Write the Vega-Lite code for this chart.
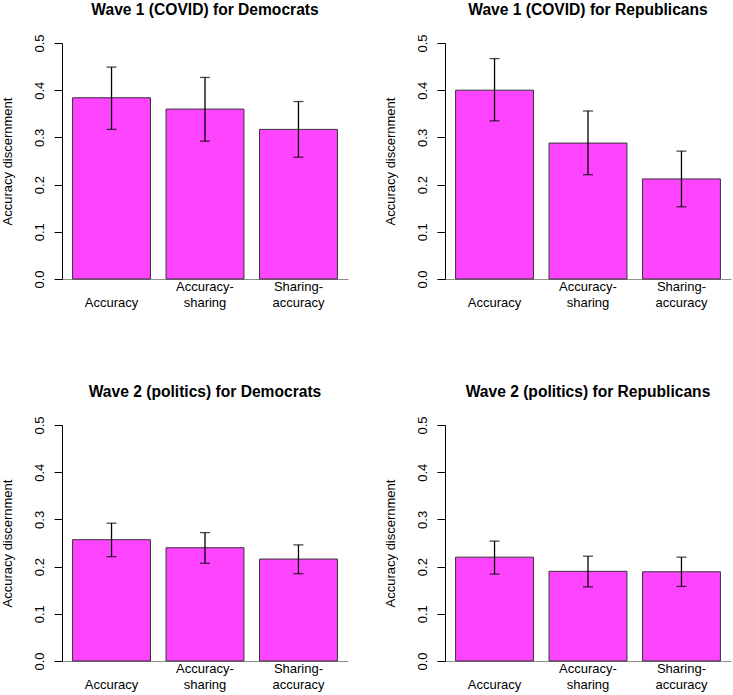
{
  "$schema": "https://vega.github.io/schema/vega-lite/v6.json",
  "padding": {"left": 1, "top": 3, "right": 5, "bottom": 5},
  "background": "white",
  "config": {
    "font": "Liberation Sans",
    "view": {"stroke": null},
    "title": {"font": "Liberation Sans", "fontSize": 15.6, "fontWeight": "bold", "color": "black", "anchor": "middle", "frame": "group", "baseline": "alphabetic", "offset": 15},
    "axisY": {
      "domainColor": "black", "tickColor": "black", "tickSize": 8, "grid": false,
      "labelAngle": 270, "labelAlign": "center", "labelBaseline": "bottom", "labelPadding": 7.5,
      "labelFontSize": 13, "labelColor": "black", "labelFont": "Liberation Sans",
      "values": [0, 0.1, 0.2, 0.3, 0.4, 0.5], "format": ".1f",
      "titleFontSize": 13, "titleFontWeight": "normal", "titleColor": "black", "titleFont": "Liberation Sans",
      "titleAngle": 270, "titleX": -55, "titleY": 118, "titleAlign": "center", "titleBaseline": "middle"
    },
    "axisX": {
      "domainColor": "#8c8c8c", "domainWidth": 1, "ticks": false, "tickSize": 0, "grid": false,
      "labelAngle": 0, "labelFontSize": 13, "labelColor": "black", "labelFont": "Liberation Sans",
      "labelBaseline": "bottom", "labelPadding": 14.5, "labelLineHeight": 16, "title": null,
      "labelExpr": "indexof(datum.label, '|') < 0 ? ['', datum.label] : split(datum.label, '|')"
    }
  },
  "datasets": {
    "bars": [
      {"panel": "w1d", "condition": "Accuracy", "value": 0.384, "lo": 0.317, "hi": 0.449},
      {"panel": "w1d", "condition": "Accuracy-|sharing", "value": 0.360, "lo": 0.292, "hi": 0.427},
      {"panel": "w1d", "condition": "Sharing-|accuracy", "value": 0.317, "lo": 0.258, "hi": 0.376},
      {"panel": "w1r", "condition": "Accuracy", "value": 0.400, "lo": 0.335, "hi": 0.467},
      {"panel": "w1r", "condition": "Accuracy-|sharing", "value": 0.288, "lo": 0.221, "hi": 0.356},
      {"panel": "w1r", "condition": "Sharing-|accuracy", "value": 0.212, "lo": 0.153, "hi": 0.271},
      {"panel": "w2d", "condition": "Accuracy", "value": 0.257, "lo": 0.221, "hi": 0.292},
      {"panel": "w2d", "condition": "Accuracy-|sharing", "value": 0.240, "lo": 0.207, "hi": 0.272},
      {"panel": "w2d", "condition": "Sharing-|accuracy", "value": 0.216, "lo": 0.185, "hi": 0.246},
      {"panel": "w2r", "condition": "Accuracy", "value": 0.220, "lo": 0.184, "hi": 0.254},
      {"panel": "w2r", "condition": "Accuracy-|sharing", "value": 0.190, "lo": 0.157, "hi": 0.222},
      {"panel": "w2r", "condition": "Sharing-|accuracy", "value": 0.189, "lo": 0.158, "hi": 0.220}
    ]
  },
  "bounds": "flush",
  "columns": 2,
  "spacing": {"row": 146, "column": 97},
  "concat": [
    {
      "title": "Wave 1 (COVID) for Democrats",
      "width": 286, "height": 236,
      "data": {"name": "bars"},
      "transform": [{"filter": "datum.panel === 'w1d'"}],
      "encoding": {
        "x": {"field": "condition", "type": "nominal", "sort": null, "scale": {"paddingInner": 0.1667, "paddingOuter": 0.1133}}
      },
      "layer": [
        {"mark": {"type": "bar", "fill": "#ff44ff", "stroke": "#333333", "strokeWidth": 1},
         "encoding": {"y": {"field": "value", "type": "quantitative", "scale": {"domain": [0, 0.5], "nice": false}, "title": "Accuracy discernment"}}},
        {"mark": {"type": "errorbar", "ticks": {"size": 10, "color": "black", "thickness": 1.3}, "rule": {"color": "black", "strokeWidth": 1.3}},
         "encoding": {"y": {"field": "lo", "type": "quantitative", "title": "Accuracy discernment"}, "y2": {"field": "hi"}}}
      ]
    },
    {
      "title": "Wave 1 (COVID) for Republicans",
      "width": 286, "height": 236,
      "data": {"name": "bars"},
      "transform": [{"filter": "datum.panel === 'w1r'"}],
      "encoding": {
        "x": {"field": "condition", "type": "nominal", "sort": null, "scale": {"paddingInner": 0.1667, "paddingOuter": 0.1133}}
      },
      "layer": [
        {"mark": {"type": "bar", "fill": "#ff44ff", "stroke": "#333333", "strokeWidth": 1},
         "encoding": {"y": {"field": "value", "type": "quantitative", "scale": {"domain": [0, 0.5], "nice": false}, "title": "Accuracy discernment"}}},
        {"mark": {"type": "errorbar", "ticks": {"size": 10, "color": "black", "thickness": 1.3}, "rule": {"color": "black", "strokeWidth": 1.3}},
         "encoding": {"y": {"field": "lo", "type": "quantitative", "title": "Accuracy discernment"}, "y2": {"field": "hi"}}}
      ]
    },
    {
      "title": "Wave 2 (politics) for Democrats",
      "width": 286, "height": 236,
      "data": {"name": "bars"},
      "transform": [{"filter": "datum.panel === 'w2d'"}],
      "encoding": {
        "x": {"field": "condition", "type": "nominal", "sort": null, "scale": {"paddingInner": 0.1667, "paddingOuter": 0.1133}}
      },
      "layer": [
        {"mark": {"type": "bar", "fill": "#ff44ff", "stroke": "#333333", "strokeWidth": 1},
         "encoding": {"y": {"field": "value", "type": "quantitative", "scale": {"domain": [0, 0.5], "nice": false}, "title": "Accuracy discernment"}}},
        {"mark": {"type": "errorbar", "ticks": {"size": 10, "color": "black", "thickness": 1.3}, "rule": {"color": "black", "strokeWidth": 1.3}},
         "encoding": {"y": {"field": "lo", "type": "quantitative", "title": "Accuracy discernment"}, "y2": {"field": "hi"}}}
      ]
    },
    {
      "title": "Wave 2 (politics) for Republicans",
      "width": 286, "height": 236,
      "data": {"name": "bars"},
      "transform": [{"filter": "datum.panel === 'w2r'"}],
      "encoding": {
        "x": {"field": "condition", "type": "nominal", "sort": null, "scale": {"paddingInner": 0.1667, "paddingOuter": 0.1133}}
      },
      "layer": [
        {"mark": {"type": "bar", "fill": "#ff44ff", "stroke": "#333333", "strokeWidth": 1},
         "encoding": {"y": {"field": "value", "type": "quantitative", "scale": {"domain": [0, 0.5], "nice": false}, "title": "Accuracy discernment"}}},
        {"mark": {"type": "errorbar", "ticks": {"size": 10, "color": "black", "thickness": 1.3}, "rule": {"color": "black", "strokeWidth": 1.3}},
         "encoding": {"y": {"field": "lo", "type": "quantitative", "title": "Accuracy discernment"}, "y2": {"field": "hi"}}}
      ]
    }
  ]
}
